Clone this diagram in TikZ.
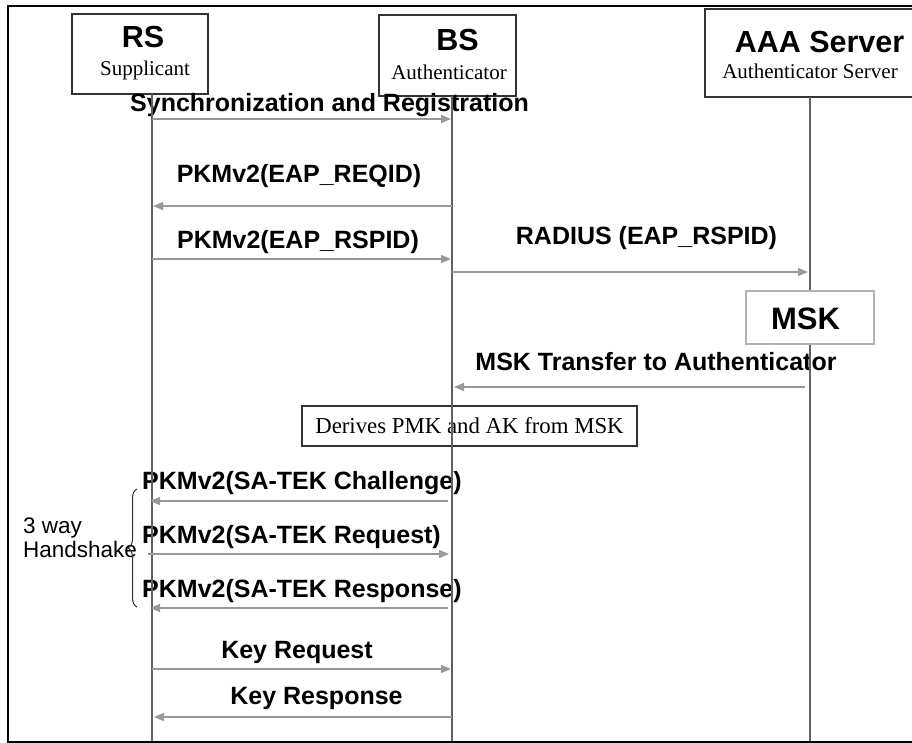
\documentclass[tikz,border=0pt]{standalone}
\usepackage{fontspec}
\setmainfont{Liberation Serif}
\newfontfamily\arialf{Liberation Sans}
\usetikzlibrary{arrows.meta,decorations.pathreplacing}
\begin{document}
\begin{tikzpicture}[x=1pt,y=-1pt,
  lbl/.style={inner sep=0pt, anchor=base, font=\arialf\bfseries\fontsize{25}{30}\selectfont},
  head/.style={inner sep=0pt, anchor=base, font=\arialf\bfseries\fontsize{30.5}{36}\selectfont},
  sub/.style={inner sep=0pt, anchor=base, font=\fontsize{21}{25}\selectfont},
  actorbox/.style={draw=black!80, line width=1.2pt, minimum width=#1, inner sep=0pt},
  lifeline/.style={draw=black!62, line width=1.5pt},
  msg/.style={draw=black!40, line width=1.3pt, -{Triangle[length=10pt,width=8pt]}, black!40},
]
\useasboundingbox (0,0) rectangle (912,743);
\fill[white] (0,0) rectangle (912,743);
% frame
\draw[line width=2.2pt] (920,6) -- (8,6) -- (8,742) -- (920,742);

% actor boxes
\node[actorbox=136pt, minimum height=80pt] (rs) at (140,54) {};
\node[actorbox=137pt, minimum height=81pt] (bs) at (447.5,55.5) {};
\node[actorbox=214pt, minimum height=88pt] (aaa) at (812,53) {};
\node[head] (rsT) at (143,48) {RS};
\node[sub] (rsS) at (145,76) {Supplicant};
\node[head] (bsT) at (457.5,51) {BS};
\node[sub] (bsS) at (449,80) {Authenticator};
\node[head] (aaaT) at (819.5,53) {AAA Server};
\node[sub] (aaaS) at (810,79) {Authenticator Server};

% message labels
\node[lbl] (l1) at (329.5,112) {Synchronization and Registration};
\node[lbl] (l2) at (299,183) {PKMv2(EAP\_REQID)};
\node[lbl] (l3) at (298,248) {PKMv2(EAP\_RSPID)};
\node[lbl] (l4) at (646.5,244) {RADIUS (EAP\_RSPID)};
\node[lbl] (l5) at (656,370) {MSK Transfer to Authenticator};
\node[lbl, anchor=base west] (l6) at (142,489) {PKMv2(SA-TEK Challenge)};
\node[lbl, anchor=base west] (l7) at (142,543) {PKMv2(SA-TEK Request)};
\node[lbl, anchor=base west] (l8) at (142,597) {PKMv2(SA-TEK Response)};
\node[lbl] (l9) at (297,658) {Key Request};
\node[lbl] (l10) at (316.5,704) {Key Response};

% derive box
\node[draw=black!80, line width=1.2pt, minimum width=335pt, minimum height=40pt, inner sep=0pt,
  font=\fontsize{22.8}{27}\selectfont] (der) at (469.5,426) {Derives PMK and AK from MSK};

% handshake
\node[inner sep=0pt, anchor=base west, align=left, font=\arialf\fontsize{22.5}{24}\selectfont] (hs) at (23,557) {3 way\\Handshake};
\coordinate (brB) at (137,607);
\coordinate (brT) at (137,489);
\draw[black!80, line width=1pt, decorate, decoration={brace, amplitude=9pt}] (brB) -- (brT);

% lifelines
\coordinate (rsA) at (152,94);  \coordinate (rsZ) at (152,741);
\coordinate (bsA) at (452,96);  \coordinate (bsZ) at (452,741);
\coordinate (aaA) at (810,97);  \coordinate (aaZ) at (810,741);
\draw[lifeline] (rsA) -- (rsZ);
\draw[lifeline] (bsA) -- (bsZ);
\draw[lifeline] (aaA) -- (aaZ);

% MSK box
\node[draw=black!30, fill=white, line width=1.3pt, minimum width=128pt, minimum height=53pt, inner sep=0pt] (msk) at (810,317.5) {};
\node[head, font=\arialf\bfseries\fontsize{31}{36}\selectfont] (mskT) at (805.5,329) {MSK};

% messages
\coordinate (m1a) at (152,119); \coordinate (m1b) at (451,119);
\coordinate (m2a) at (452,206); \coordinate (m2b) at (153,206);
\coordinate (m3a) at (152,259); \coordinate (m3b) at (451,259);
\coordinate (m4a) at (452,272); \coordinate (m4b) at (808,272);
\coordinate (m5a) at (805,387); \coordinate (m5b) at (454,387);
\coordinate (m6a) at (448,501); \coordinate (m6b) at (150,501);
\coordinate (m7a) at (148,554); \coordinate (m7b) at (449,554);
\coordinate (m8a) at (448,608); \coordinate (m8b) at (150,608);
\coordinate (m9a) at (152,669); \coordinate (m9b) at (451,669);
\coordinate (m10a) at (452,717); \coordinate (m10b) at (154,717);
\foreach \i in {1,...,10} {\draw[msg] (m\i a) -- (m\i b);}
\end{tikzpicture}
\end{document}
